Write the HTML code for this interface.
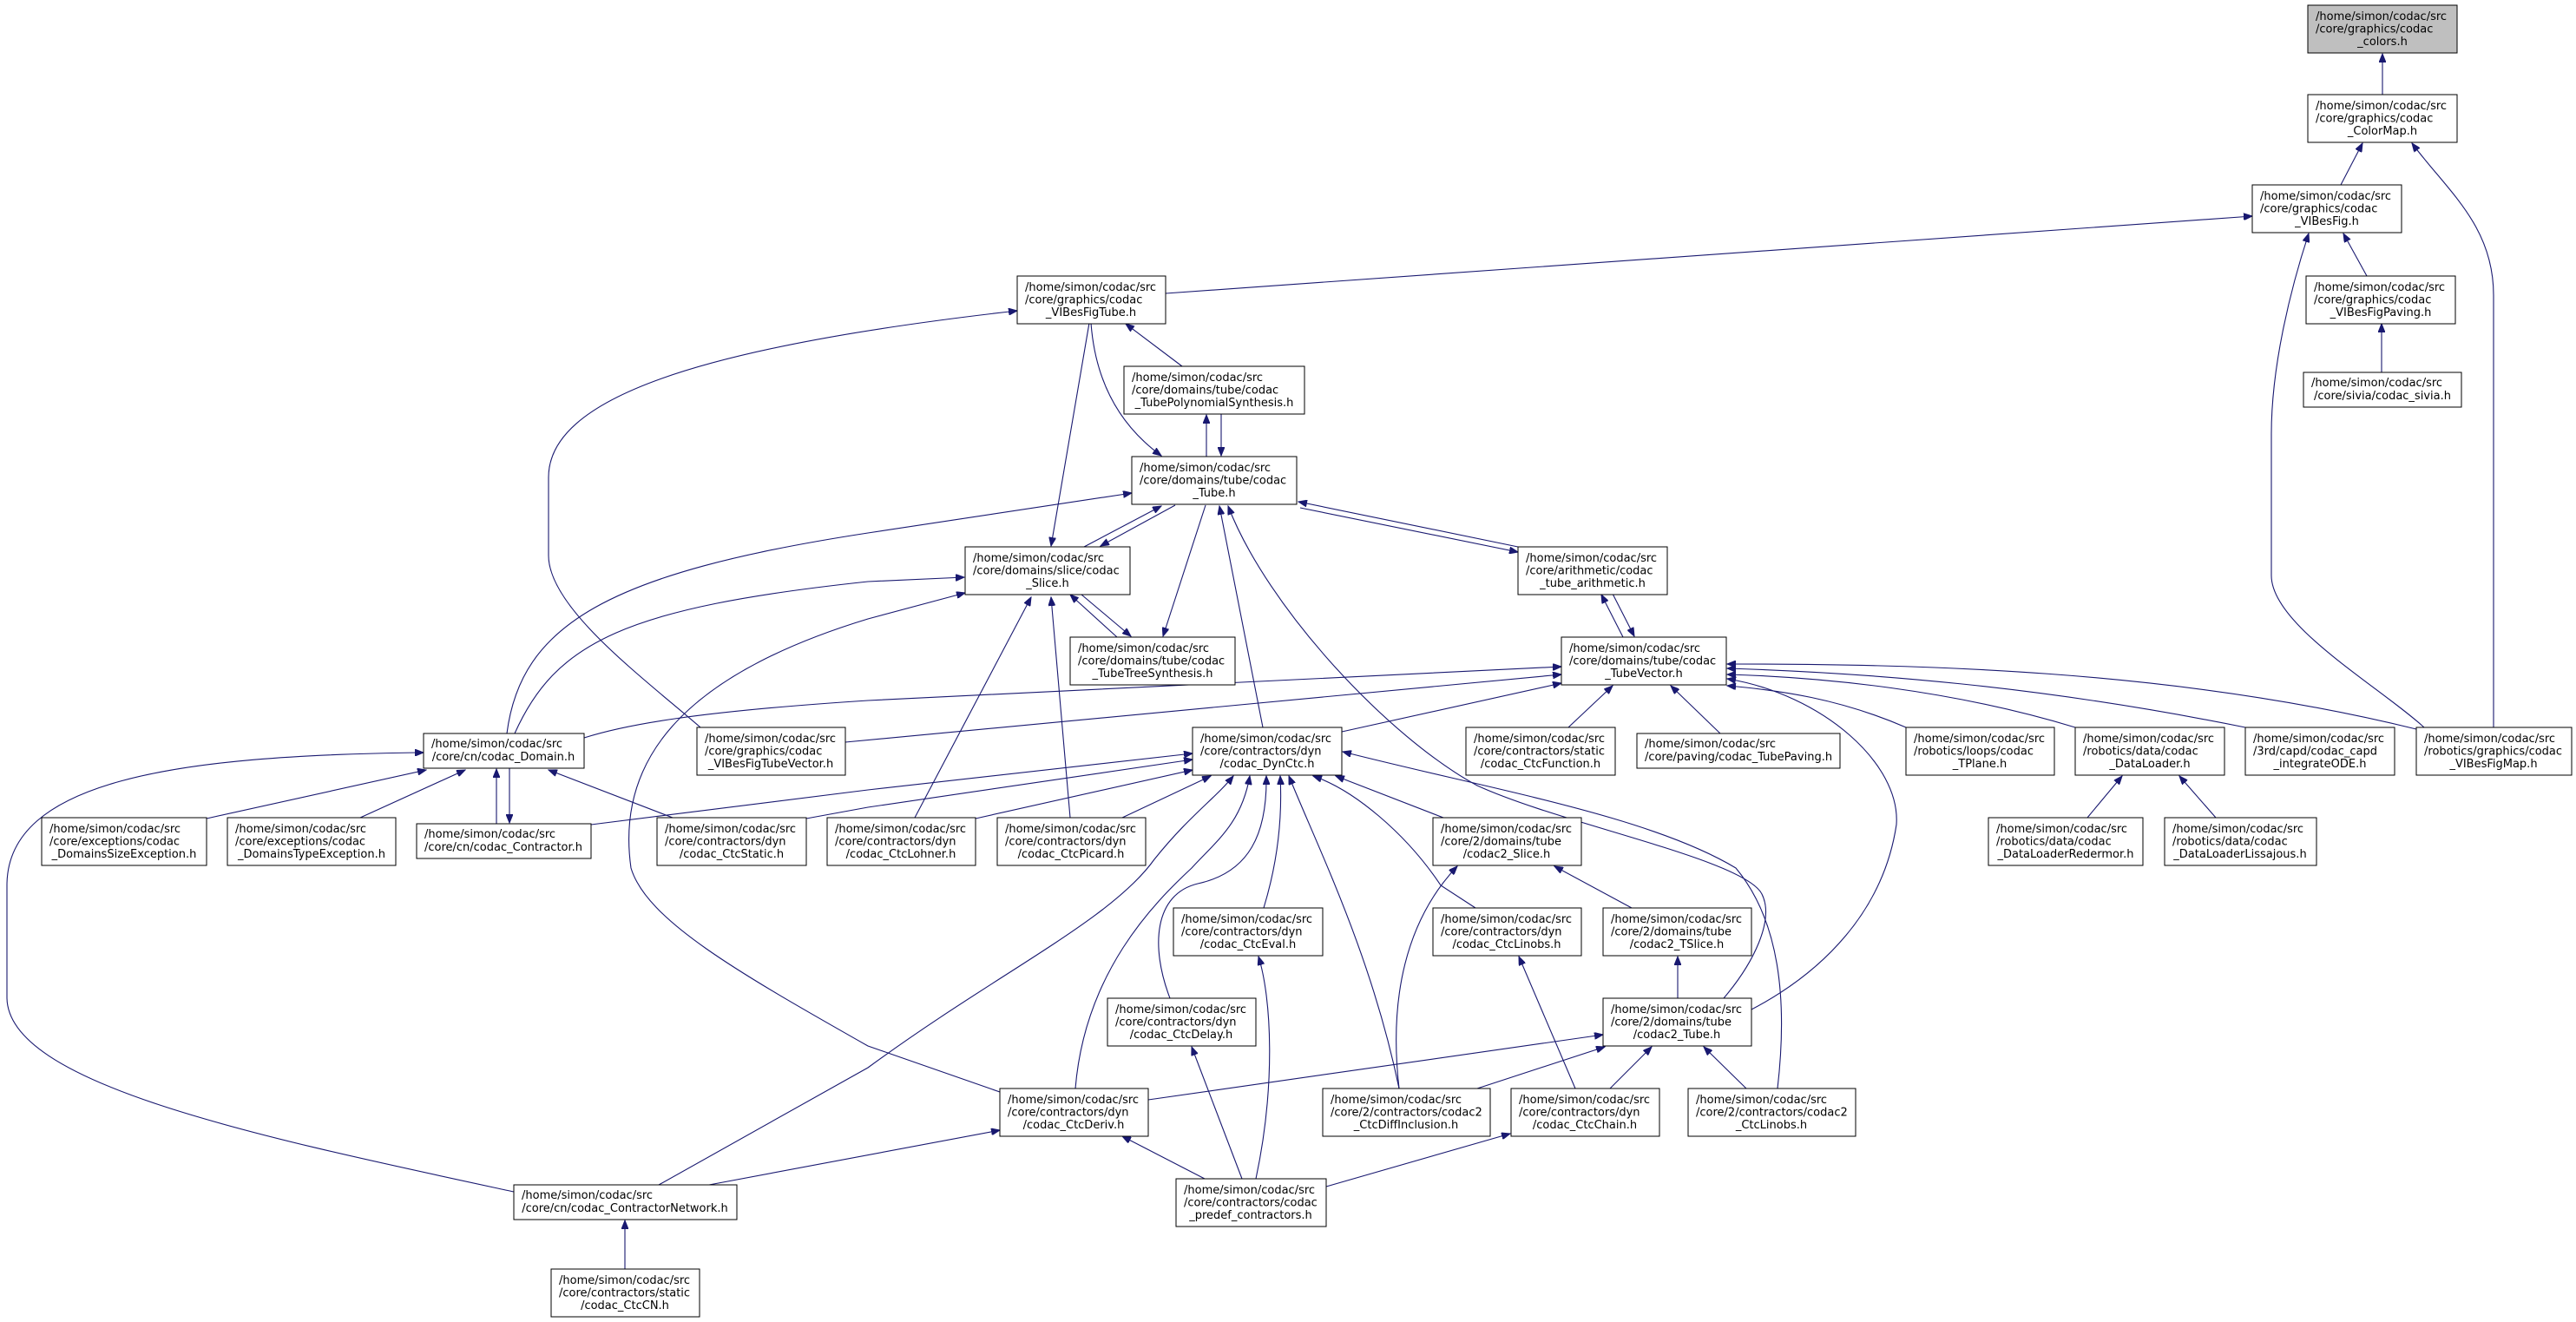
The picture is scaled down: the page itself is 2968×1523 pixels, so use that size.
<!DOCTYPE html>
<html><head><meta charset="utf-8"><style>
html,body{margin:0;padding:0;background:#fff;}
svg{display:block;}
text{font-family:"DejaVu Sans","Liberation Sans",sans-serif;font-size:13px;fill:#000;}
.b{fill:#fff;stroke:#000;stroke-width:1;}
.g{fill:#bfbfbf;stroke:#000;stroke-width:1;}
path{fill:none;stroke:#191970;stroke-width:1.1;}
.m{text-anchor:middle;}
</style></head><body>
<svg width="2968" height="1523" viewBox="0 0 2968 1523" xmlns="http://www.w3.org/2000/svg">
<defs><marker id="a" markerUnits="userSpaceOnUse" markerWidth="11" markerHeight="8" refX="10" refY="4" orient="auto"><path d="M0,0 L10,4 L0,8 z" style="fill:#191970;stroke:#191970;stroke-width:1"/></marker></defs>
<g marker-end="url(#a)">
<path d="M2745,109 L2745,62"/>
<path d="M2697,213 L2722,165"/>
<path d="M2873,838 L2873,340 C2873,260 2820,220 2779,165"/>
<path d="M1343,338 L2595,249"/>
<path d="M2727,318 L2700,269"/>
<path d="M2793,838 C2740,790 2617,720 2617,663 L2617,500 C2617,420 2640,330 2660,269"/>
<path d="M2744,429 L2744,373"/>
<path d="M807,838 C740,780 632,700 632,640 L632,550 C632,460 800,400 1172,358"/>
<path d="M1362,422 L1297,373"/>
<path d="M1255,372 L1211,629"/>
<path d="M1257,372 C1262,440 1290,490 1338,525"/>
<path d="M1390,526 L1390,478"/>
<path d="M1407,477 L1407,525"/>
<path d="M584,845 C600,720 700,660 1000,614 L1304,568"/>
<path d="M593,845 C640,740 720,700 1000,670 L1111,665"/>
<path d="M1152,1258 L1000,1205 C850,1120 745,1060 727,1000 C710,880 780,780 1000,713 L1112,683"/>
<path d="M1249,630 L1338,583"/>
<path d="M1354,582 L1268,629"/>
<path d="M1389,582 L1340,733"/>
<path d="M1287,734 L1233,685"/>
<path d="M1246,685 L1303,733"/>
<path d="M1455,838 L1405,583"/>
<path d="M1986,1150 C2020,1110 2045,1060 2030,1030 C2010,990 1800,950 1702,905 C1600,850 1460,700 1415,583"/>
<path d="M1498,585 L1749,636"/>
<path d="M1749,630 L1496,578"/>
<path d="M1870,734 L1845,685"/>
<path d="M1858,684 L1883,733"/>
<path d="M673,850 C720,835 800,820 1000,807 L1799,768"/>
<path d="M974,855 L1799,777"/>
<path d="M1546,843 L1799,787"/>
<path d="M1807,838 L1858,790"/>
<path d="M1982,845 L1925,790"/>
<path d="M2196,838 C2120,805 2050,795 1990,790"/>
<path d="M2391,838 C2250,795 2100,780 1990,777"/>
<path d="M2587,838 C2350,790 2150,775 1990,770"/>
<path d="M2784,840 C2500,770 2200,765 1990,765"/>
<path d="M2405,942 L2445,894"/>
<path d="M2553,942 L2511,894"/>
<path d="M681,950 L1000,910 L1374,868"/>
<path d="M929,943 L1000,930 L1374,875"/>
<path d="M1124,943 L1374,887"/>
<path d="M1293,942 L1395,894"/>
<path d="M1054,942 L1188,688"/>
<path d="M1233,942 L1211,688"/>
<path d="M238,943 L491,887"/>
<path d="M415,942 L536,887"/>
<path d="M572,949 L572,886"/>
<path d="M587,885 L587,948"/>
<path d="M775,942 L632,887"/>
<path d="M592,1373 C300,1310 10,1250 8,1150 L8,1020 C8,900 200,870 488,867"/>
<path d="M759,1365 L1000,1230 C1150,1120 1280,1060 1330,990 C1370,940 1400,920 1421,894"/>
<path d="M1239,1254 C1250,1120 1330,1040 1373,1000 C1400,970 1430,950 1440,894"/>
<path d="M1348,1150 C1325,1090 1330,1030 1380,1018 C1440,1005 1460,960 1459,894"/>
<path d="M1456,1046 C1470,1000 1478,950 1475,894"/>
<path d="M1612,1254 C1580,1100 1520,980 1485,894"/>
<path d="M1700,1046 L1660,1020 C1620,960 1560,910 1513,894"/>
<path d="M1663,942 L1539,894"/>
<path d="M2048,1254 C2060,1150 2050,1060 2000,1000 C1900,940 1720,910 1547,866"/>
<path d="M1612,1254 C1600,1150 1620,1060 1679,998"/>
<path d="M1880,1046 L1791,998"/>
<path d="M1447,1358 C1470,1250 1465,1150 1450,1102"/>
<path d="M1431,1358 L1373,1206"/>
<path d="M1388,1358 L1293,1309"/>
<path d="M1528,1367 L1740,1306"/>
<path d="M1815,1254 L1750,1102"/>
<path d="M1933,1150 L1933,1102"/>
<path d="M1323,1267 L1847,1192"/>
<path d="M1702,1254 L1849,1206"/>
<path d="M1855,1254 L1903,1206"/>
<path d="M2012,1254 L1963,1206"/>
<path d="M817,1365 L1152,1302"/>
<path d="M2018,1163 C2100,1120 2170,1050 2185,950 C2190,880 2100,800 1990,782"/>
<path d="M720,1462 L720,1406"/>
</g>

<!-- nodes -->
<rect class="g" x="2659" y="6" width="172" height="55"/><text x="2668" y="23">/home/simon/codac/src</text><text x="2668" y="37.5">/core/graphics/codac</text><text class="m" x="2745" y="52">_colors.h</text>
<rect class="b" x="2659" y="109" width="172" height="55"/><text x="2668" y="126">/home/simon/codac/src</text><text x="2668" y="140.5">/core/graphics/codac</text><text class="m" x="2745" y="155">_ColorMap.h</text>
<rect class="b" x="2595" y="213" width="172" height="55"/><text x="2604" y="230">/home/simon/codac/src</text><text x="2604" y="244.5">/core/graphics/codac</text><text class="m" x="2681" y="259">_VIBesFig.h</text>
<rect class="b" x="2657" y="318" width="172" height="55"/><text x="2666" y="335">/home/simon/codac/src</text><text x="2666" y="349.5">/core/graphics/codac</text><text class="m" x="2743" y="364">_VIBesFigPaving.h</text>
<rect class="b" x="2654" y="429" width="182" height="40"/><text x="2663" y="445">/home/simon/codac/src</text><text class="m" x="2745" y="460">/core/sivia/codac_sivia.h</text>
<rect class="b" x="1172" y="318" width="171" height="55"/><text x="1181" y="335">/home/simon/codac/src</text><text x="1181" y="349.5">/core/graphics/codac</text><text class="m" x="1257" y="364">_VIBesFigTube.h</text>
<rect class="b" x="1295" y="422" width="208" height="55"/><text x="1304" y="439">/home/simon/codac/src</text><text x="1304" y="453.5">/core/domains/tube/codac</text><text class="m" x="1399" y="468">_TubePolynomialSynthesis.h</text>
<rect class="b" x="1304" y="526" width="190" height="55"/><text x="1313" y="543">/home/simon/codac/src</text><text x="1313" y="557.5">/core/domains/tube/codac</text><text class="m" x="1399" y="572">_Tube.h</text>
<rect class="b" x="1112" y="630" width="190" height="55"/><text x="1121" y="647">/home/simon/codac/src</text><text x="1121" y="661.5">/core/domains/slice/codac</text><text class="m" x="1207" y="676">_Slice.h</text>
<rect class="b" x="1749" y="630" width="172" height="55"/><text x="1758" y="647">/home/simon/codac/src</text><text x="1758" y="661.5">/core/arithmetic/codac</text><text class="m" x="1835" y="676">_tube_arithmetic.h</text>
<rect class="b" x="1233" y="734" width="190" height="55"/><text x="1242" y="751">/home/simon/codac/src</text><text x="1242" y="765.5">/core/domains/tube/codac</text><text class="m" x="1328" y="780">_TubeTreeSynthesis.h</text>
<rect class="b" x="1799" y="734" width="190" height="55"/><text x="1808" y="751">/home/simon/codac/src</text><text x="1808" y="765.5">/core/domains/tube/codac</text><text class="m" x="1894" y="780">_TubeVector.h</text>
<rect class="b" x="488" y="845" width="185" height="40"/><text x="497" y="861">/home/simon/codac/src</text><text class="m" x="580" y="876">/core/cn/codac_Domain.h</text>
<rect class="b" x="803" y="838" width="171" height="55"/><text x="812" y="855">/home/simon/codac/src</text><text x="812" y="869.5">/core/graphics/codac</text><text class="m" x="888" y="884">_VIBesFigTubeVector.h</text>
<rect class="b" x="1374" y="838" width="172" height="55"/><text x="1383" y="855">/home/simon/codac/src</text><text x="1383" y="869.5">/core/contractors/dyn</text><text class="m" x="1460" y="884">/codac_DynCtc.h</text>
<rect class="b" x="1689" y="838" width="172" height="55"/><text x="1698" y="855">/home/simon/codac/src</text><text x="1698" y="869.5">/core/contractors/static</text><text class="m" x="1775" y="884">/codac_CtcFunction.h</text>
<rect class="b" x="1886" y="845" width="234" height="40"/><text x="1895" y="861">/home/simon/codac/src</text><text class="m" x="2003" y="876">/core/paving/codac_TubePaving.h</text>
<rect class="b" x="2196" y="838" width="171" height="55"/><text x="2205" y="855">/home/simon/codac/src</text><text x="2205" y="869.5">/robotics/loops/codac</text><text class="m" x="2281" y="884">_TPlane.h</text>
<rect class="b" x="2391" y="838" width="172" height="55"/><text x="2400" y="855">/home/simon/codac/src</text><text x="2400" y="869.5">/robotics/data/codac</text><text class="m" x="2477" y="884">_DataLoader.h</text>
<rect class="b" x="2587" y="838" width="172" height="55"/><text x="2596" y="855">/home/simon/codac/src</text><text x="2596" y="869.5">/3rd/capd/codac_capd</text><text class="m" x="2673" y="884">_integrateODE.h</text>
<rect class="b" x="2784" y="838" width="179" height="55"/><text x="2793" y="855">/home/simon/codac/src</text><text x="2793" y="869.5">/robotics/graphics/codac</text><text class="m" x="2873" y="884">_VIBesFigMap.h</text>
<rect class="b" x="48" y="942" width="190" height="55"/><text x="57" y="959">/home/simon/codac/src</text><text x="57" y="973.5">/core/exceptions/codac</text><text class="m" x="143" y="988">_DomainsSizeException.h</text>
<rect class="b" x="262" y="942" width="194" height="55"/><text x="271" y="959">/home/simon/codac/src</text><text x="271" y="973.5">/core/exceptions/codac</text><text class="m" x="359" y="988">_DomainsTypeException.h</text>
<rect class="b" x="480" y="949" width="201" height="40"/><text x="489" y="965">/home/simon/codac/src</text><text class="m" x="580" y="980">/core/cn/codac_Contractor.h</text>
<rect class="b" x="757" y="942" width="172" height="55"/><text x="766" y="959">/home/simon/codac/src</text><text x="766" y="973.5">/core/contractors/dyn</text><text class="m" x="843" y="988">/codac_CtcStatic.h</text>
<rect class="b" x="953" y="942" width="171" height="55"/><text x="962" y="959">/home/simon/codac/src</text><text x="962" y="973.5">/core/contractors/dyn</text><text class="m" x="1038" y="988">/codac_CtcLohner.h</text>
<rect class="b" x="1149" y="942" width="171" height="55"/><text x="1158" y="959">/home/simon/codac/src</text><text x="1158" y="973.5">/core/contractors/dyn</text><text class="m" x="1234" y="988">/codac_CtcPicard.h</text>
<rect class="b" x="1651" y="942" width="171" height="55"/><text x="1660" y="959">/home/simon/codac/src</text><text x="1660" y="973.5">/core/2/domains/tube</text><text class="m" x="1736" y="988">/codac2_Slice.h</text>
<rect class="b" x="2291" y="942" width="178" height="55"/><text x="2300" y="959">/home/simon/codac/src</text><text x="2300" y="973.5">/robotics/data/codac</text><text class="m" x="2380" y="988">_DataLoaderRedermor.h</text>
<rect class="b" x="2494" y="942" width="175" height="55"/><text x="2503" y="959">/home/simon/codac/src</text><text x="2503" y="973.5">/robotics/data/codac</text><text class="m" x="2581" y="988">_DataLoaderLissajous.h</text>
<rect class="b" x="1352" y="1046" width="172" height="55"/><text x="1361" y="1063">/home/simon/codac/src</text><text x="1361" y="1077.5">/core/contractors/dyn</text><text class="m" x="1438" y="1092">/codac_CtcEval.h</text>
<rect class="b" x="1651" y="1046" width="171" height="55"/><text x="1660" y="1063">/home/simon/codac/src</text><text x="1660" y="1077.5">/core/contractors/dyn</text><text class="m" x="1736" y="1092">/codac_CtcLinobs.h</text>
<rect class="b" x="1847" y="1046" width="171" height="55"/><text x="1856" y="1063">/home/simon/codac/src</text><text x="1856" y="1077.5">/core/2/domains/tube</text><text class="m" x="1932" y="1092">/codac2_TSlice.h</text>
<rect class="b" x="1276" y="1150" width="171" height="55"/><text x="1285" y="1167">/home/simon/codac/src</text><text x="1285" y="1181.5">/core/contractors/dyn</text><text class="m" x="1361" y="1196">/codac_CtcDelay.h</text>
<rect class="b" x="1847" y="1150" width="171" height="55"/><text x="1856" y="1167">/home/simon/codac/src</text><text x="1856" y="1181.5">/core/2/domains/tube</text><text class="m" x="1932" y="1196">/codac2_Tube.h</text>
<rect class="b" x="1152" y="1254" width="171" height="55"/><text x="1161" y="1271">/home/simon/codac/src</text><text x="1161" y="1285.5">/core/contractors/dyn</text><text class="m" x="1237" y="1300">/codac_CtcDeriv.h</text>
<rect class="b" x="1524" y="1254" width="193" height="55"/><text x="1533" y="1271">/home/simon/codac/src</text><text x="1533" y="1285.5">/core/2/contractors/codac2</text><text class="m" x="1620" y="1300">_CtcDiffInclusion.h</text>
<rect class="b" x="1741" y="1254" width="171" height="55"/><text x="1750" y="1271">/home/simon/codac/src</text><text x="1750" y="1285.5">/core/contractors/dyn</text><text class="m" x="1826" y="1300">/codac_CtcChain.h</text>
<rect class="b" x="1945" y="1254" width="193" height="55"/><text x="1954" y="1271">/home/simon/codac/src</text><text x="1954" y="1285.5">/core/2/contractors/codac2</text><text class="m" x="2041" y="1300">_CtcLinobs.h</text>
<rect class="b" x="1355" y="1358" width="173" height="55"/><text x="1364" y="1375">/home/simon/codac/src</text><text x="1364" y="1389.5">/core/contractors/codac</text><text class="m" x="1441" y="1404">_predef_contractors.h</text>
<rect class="b" x="592" y="1365" width="257" height="40"/><text x="601" y="1381">/home/simon/codac/src</text><text class="m" x="720" y="1396">/core/cn/codac_ContractorNetwork.h</text>
<rect class="b" x="635" y="1462" width="171" height="55"/><text x="644" y="1479">/home/simon/codac/src</text><text x="644" y="1493.5">/core/contractors/static</text><text class="m" x="720" y="1508">/codac_CtcCN.h</text>
</svg>
</body></html>
